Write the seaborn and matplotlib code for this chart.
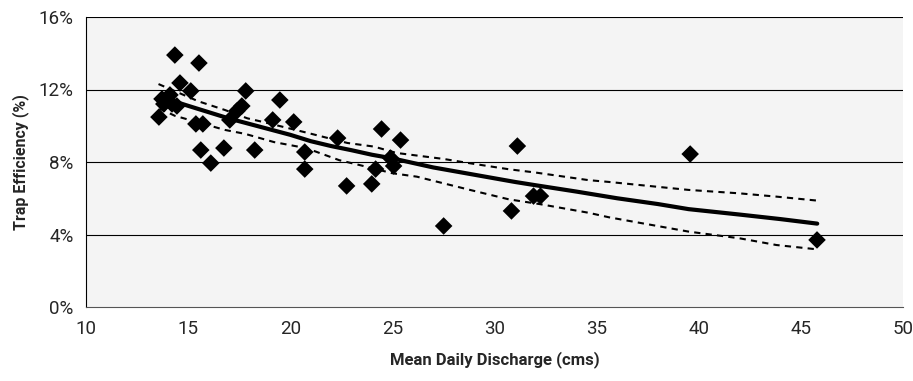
import numpy as np
import pandas as pd
import matplotlib
matplotlib.use("Agg")
import matplotlib.pyplot as plt
import seaborn as sns
from matplotlib.ticker import FuncFormatter

# observed points (discharge cms, trap efficiency %)
discharge = [14.35, 15.53, 14.60, 13.72, 14.11, 13.81, 14.21, 14.45, 13.57, 15.13,
             15.38, 15.72, 15.62, 16.75, 16.11, 17.04, 17.63, 17.82, 17.38, 18.26,
             19.14, 19.49, 20.17, 20.71, 20.71, 22.32, 22.76, 23.99, 24.18, 24.47,
             24.91, 25.06, 25.40, 27.51, 30.83, 31.12, 31.91, 32.25, 39.58, 45.79]
efficiency = [13.90, 13.46, 12.36, 11.48, 11.70, 11.20, 11.20, 11.09, 10.48, 11.92,
              10.10, 10.10, 8.66, 8.77, 7.94, 10.32, 11.09, 11.92, 10.81, 8.66,
              10.32, 11.42, 10.21, 8.55, 7.61, 9.32, 6.68, 6.79, 7.61, 9.82,
              8.22, 7.78, 9.21, 4.47, 5.30, 8.88, 6.12, 6.12, 8.44, 3.70]

# fitted curve
fit_x = [13.6, 15.0, 16.0, 17.0, 18.0, 19.0, 20.0, 21.0, 22.0, 23.0, 24.0, 25.0,
         26.0, 27.0, 28.0, 29.0, 30.0, 31.0, 32.0, 34.0, 36.0, 38.0, 39.5, 42.0, 44.0, 45.8]
fit_y = [11.6, 11.1, 10.75, 10.4, 10.1, 9.8, 9.5, 9.15, 8.88, 8.65, 8.4, 8.2,
         7.95, 7.7, 7.5, 7.3, 7.1, 6.9, 6.72, 6.37, 6.0, 5.68, 5.4, 5.1, 4.85, 4.6]

# confidence bands
upper_x = [13.55, 15.5, 16.8, 17.9, 18.7, 20.8, 22.8, 24.1, 25.2, 27.5, 28.8, 30.7,
           32.0, 34.6, 35.6, 39.5, 42.0, 43.8, 45.8]
upper_y = [12.3, 11.35, 10.87, 10.41, 10.2, 9.62, 9.05, 8.85, 8.5, 8.17, 7.93, 7.6,
           7.42, 7.0, 6.9, 6.46, 6.27, 6.09, 5.87]
lower_x = [13.6, 14.35, 16.8, 17.8, 19.2, 20.8, 22.4, 23.4, 25.0, 26.2, 28.8, 30.7,
           32.2, 34.6, 35.6, 39.5, 42.0, 43.8, 45.8]
lower_y = [10.95, 10.55, 9.77, 9.55, 9.1, 8.76, 8.1, 7.83, 7.38, 7.19, 6.46, 5.94,
           5.68, 5.2, 4.95, 4.16, 3.79, 3.42, 3.18]

y_ticks = [0, 4, 8, 12, 16]
x_ticks = [10, 15, 20, 25, 30, 35, 40, 45, 50]

sns.set_style("white")
plt.rcParams['font.family'] = ['Liberation Sans Narrow', 'Roboto', 'DejaVu Sans']

fig = plt.figure(figsize=(9.13, 3.81), dpi=100)
ax = fig.add_axes([86/913, 1-307/381, (903-86)/913, (307-17)/381])
ax.set_facecolor("#f4f4f4")

for t in y_ticks[1:]:
    ax.axhline(t, color="black", lw=0.8, zorder=1)

sns.lineplot(x=upper_x, y=upper_y, ax=ax, color="black", lw=1.5, sort=False,
             linestyle=(0, (3, 2.5)), zorder=2)
sns.lineplot(x=lower_x, y=lower_y, ax=ax, color="black", lw=1.5, sort=False,
             linestyle=(0, (3, 2.5)), zorder=2)
sns.lineplot(x=fit_x, y=fit_y, ax=ax, color="black", lw=3, sort=False, zorder=3)
sns.scatterplot(x=discharge, y=efficiency, ax=ax, marker="D", s=80, color="black",
                edgecolor="none", zorder=4)

ax.set_xlim(10, 50)
ax.set_ylim(0, 16)
ax.set_xticks(x_ticks)
ax.set_yticks(y_ticks)
ax.yaxis.set_major_formatter(FuncFormatter(lambda v, p: "%d%%" % v))
ax.tick_params(axis="both", direction="out", length=5, width=1, color="black",
               labelsize=13.5, pad=4)
for s in ["top", "right"]:
    ax.spines[s].set_visible(False)
ax.spines["left"].set_color("black")
ax.spines["bottom"].set_color("#555555")

ax.set_xlabel("Mean Daily Discharge (cms)", fontsize=12, fontweight="bold", labelpad=10)
ax.set_ylabel("Trap Efficiency (%)", fontsize=11.5, fontweight="bold", labelpad=7)

fig.savefig("out.png", dpi=100)
